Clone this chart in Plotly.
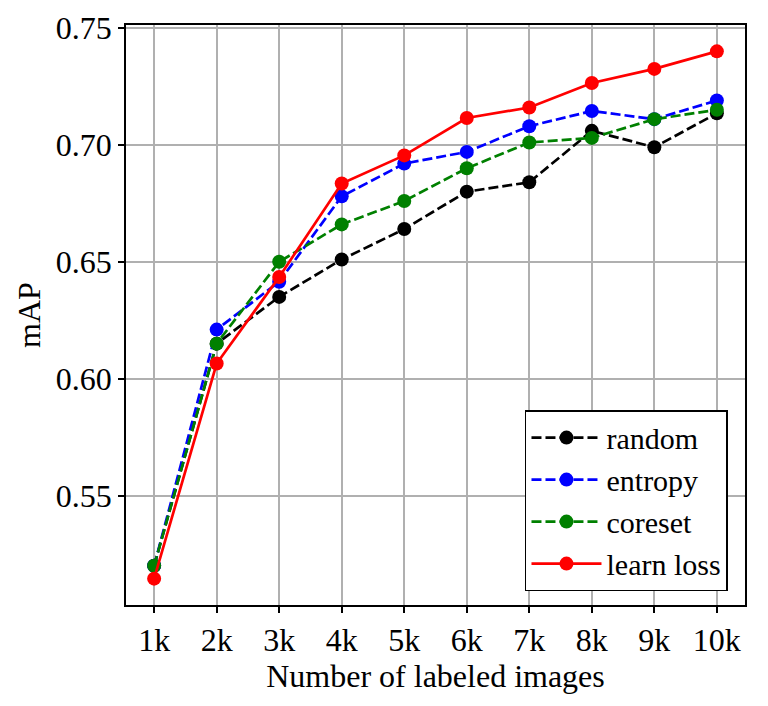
import plotly.graph_objects as go

x_vals = [1, 2, 3, 4, 5, 6, 7, 8, 9, 10]
x_labels = ["1k", "2k", "3k", "4k", "5k", "6k", "7k", "8k", "9k", "10k"]

random_map = [0.520, 0.615, 0.635, 0.651, 0.664, 0.680, 0.684, 0.706, 0.699, 0.7135]
entropy_map = [0.520, 0.621, 0.6415, 0.678, 0.692, 0.697, 0.708, 0.7145, 0.711, 0.719]
coreset_map = [0.520, 0.615, 0.650, 0.666, 0.676, 0.690, 0.701, 0.703, 0.711, 0.715]
learnloss_map = [0.5145, 0.6065, 0.6435, 0.6835, 0.6955, 0.7115, 0.716, 0.7265, 0.7325, 0.740]

y_ticks = [0.55, 0.60, 0.65, 0.70, 0.75]

series = [
    ("random", random_map, "black", "10px,4px"),
    ("entropy", entropy_map, "blue", "10px,4px"),
    ("coreset", coreset_map, "green", "10px,4px"),
    ("learn loss", learnloss_map, "red", "solid"),
]

FONT = "Liberation Serif, Times New Roman, serif"

fig = go.Figure()
for name, vals, color, dash in series:
    fig.add_trace(go.Scatter(
        x=x_vals, y=vals, name=name, mode="lines+markers",
        line=dict(color=color, width=2.7, dash=dash),
        marker=dict(color=color, size=14),
    ))

all_vals = random_map + entropy_map + coreset_map + learnloss_map
ymin, ymax = min(all_vals), max(all_vals)
pad = 0.05 * (ymax - ymin)
xpad = 0.05 * (max(x_vals) - min(x_vals))

axis_common = dict(
    showline=True, linecolor="black", linewidth=1.5, mirror=True,
    showgrid=True, gridcolor="#b0b0b0", gridwidth=1.5,
    ticks="outside", ticklen=6, tickwidth=1.5, tickcolor="black",
    zeroline=False,
    tickfont=dict(family=FONT, size=32, color="black"),
)

fig.update_xaxes(
    **axis_common,
    range=[min(x_vals) - xpad, max(x_vals) + xpad],
    tickmode="array", tickvals=x_vals, ticktext=x_labels,
    title=dict(text="Number of labeled images", font=dict(family=FONT, size=32, color="black"), standoff=6),
)
fig.update_yaxes(
    **axis_common,
    range=[ymin - pad, ymax + pad],
    tickmode="array", tickvals=y_ticks, tickformat=".2f",
    title=dict(text="mAP", font=dict(family=FONT, size=32, color="black"), standoff=6),
)

fig.update_layout(
    width=768, height=706,
    margin=dict(l=126, r=23, t=25, b=101, autoexpand=False),
    plot_bgcolor="white", paper_bgcolor="white",
    font=dict(family=FONT, size=32, color="black"),
    legend=dict(
        x=0.9725, y=0.024, xanchor="right", yanchor="bottom",
        bgcolor="white", bordercolor="black", borderwidth=1.5,
        font=dict(family=FONT, size=30, color="black"),
        itemwidth=70, tracegroupgap=0,
    ),
    showlegend=True,
)

fig.write_html("out.html")
